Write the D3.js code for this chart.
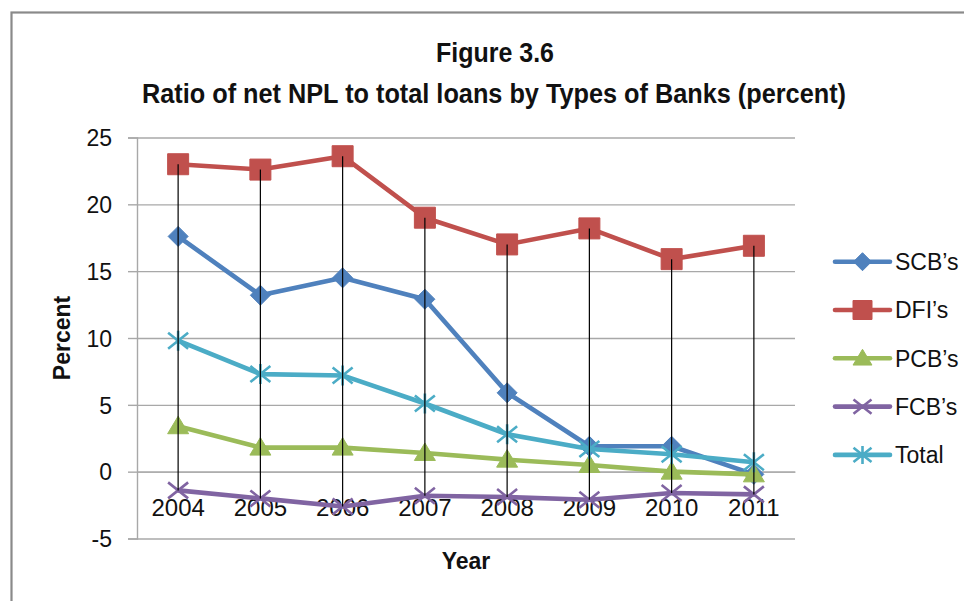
<!DOCTYPE html>
<html>
<head>
<meta charset="utf-8">
<script src="https://cdn.jsdelivr.net/npm/d3@7/dist/d3.min.js"></script>
<style>
  html, body { margin: 0; padding: 0; background: #fff; }
  svg { display: block; }
  text { font-family: "Liberation Sans", Arial, sans-serif; fill: #111; }
</style>
</head>
<body>
<svg id="chart" width="964" height="601"></svg>
<script>
// Ratio of net NPL to total loans, by bank type (percent)
const years = ["2004", "2005", "2006", "2007", "2008", "2009", "2010", "2011"];
const seriesNames = ["SCB\u2019s", "DFI\u2019s", "PCB\u2019s", "FCB\u2019s", "Total"];
const scbValues   = [17.6, 13.2, 14.5, 12.9, 5.9, 1.9, 1.9, -0.2];
const dfiValues   = [23.0, 22.6, 23.6, 19.0, 17.0, 18.2, 15.9, 16.9];
const pcbValues   = [3.4, 1.8, 1.8, 1.4, 0.9, 0.5, 0.0, -0.2];
const fcbValues   = [-1.4, -2.0, -2.6, -1.8, -1.9, -2.1, -1.6, -1.7];
const totalValues = [9.8, 7.3, 7.2, 5.1, 2.8, 1.7, 1.3, 0.7];
const yTicks = [-5, 0, 5, 10, 15, 20, 25];

const seriesValues = [scbValues, dfiValues, pcbValues, fcbValues, totalValues];
const seriesColors = ["#4F81BD", "#C0504D", "#9BBB59", "#8064A2", "#4BACC6"];
const seriesMarkers = ["diamond", "square", "triangle", "cross", "star"];

const svg = d3.select("#chart");

// outer chart frame
svg.append("rect")
  .attr("x", 11.5).attr("y", 12.5)
  .attr("width", 1000).attr("height", 700)
  .attr("fill", "#fff").attr("stroke", "#8a8a8a").attr("stroke-width", 2.2);

const plot = { left: 137, right: 795, top: 137.5, bottom: 538.5 };

const x = d3.scaleBand().domain(years).range([plot.left, plot.right]);
const y = d3.scaleLinear().domain([-5, 25]).range([plot.bottom, plot.top]);
const cx = d => x(d) + x.bandwidth() / 2;

// horizontal gridlines
svg.append("g")
  .attr("transform", `translate(${plot.left},0)`)
  .call(d3.axisLeft(y).tickValues(yTicks).tickSize(-(plot.right - plot.left)).tickFormat(""))
  .call(g => g.select(".domain").remove())
  .call(g => g.selectAll("line").attr("stroke", "#a8a8a8").attr("stroke-width", 1.4));

// value axis (plain hyphen for negatives)
svg.append("g")
  .attr("transform", `translate(${plot.left},0)`)
  .call(d3.axisLeft(y).tickValues(yTicks).tickSize(9).tickPadding(16).tickFormat(d => String(d)))
  .call(g => g.select(".domain").attr("stroke", "#a8a8a8").attr("stroke-width", 1.4))
  .call(g => g.selectAll(".tick line").attr("stroke", "#a8a8a8").attr("stroke-width", 1.4))
  .call(g => g.selectAll("text")
    .attr("font-size", 23).attr("font-family", "Liberation Sans, Arial, sans-serif")
    .attr("fill", "#111").attr("dy", "0.36em"));

// category axis crossing at zero
svg.append("g")
  .attr("transform", `translate(0,${y(0)})`)
  .call(d3.axisBottom(x).tickSize(0).tickPadding(0))
  .call(g => g.select(".domain").attr("stroke", "#a8a8a8").attr("stroke-width", 1.4))
  .call(g => g.selectAll("text")
    .attr("font-size", 24).attr("font-family", "Liberation Sans, Arial, sans-serif")
    .attr("fill", "#111").attr("y", 44.3).attr("dy", 0));

// marker shapes
function markerPath(type, s) {
  switch (type) {
    case "diamond": return `M0,${-s}L${s},0L0,${s}L${-s},0Z`;
    case "square": return `M${-s},${-s}H${s}V${s}H${-s}Z`;
    case "triangle": return `M0,${-s}L${s * 1.05},${s * 0.75}L${-s * 1.05},${s * 0.75}Z`;
    case "cross": return `M${-s},${-s * 0.8}L${s},${s * 0.8}M${-s},${s * 0.8}L${s},${-s * 0.8}`;
    case "star": return `M${-s},${-s * 0.8}L${s},${s * 0.8}M${-s},${s * 0.8}L${s},${-s * 0.8}M0,${-s}V${s}`;
  }
}
const isOpen = t => t === "cross" || t === "star";

const line = d3.line().x(d => cx(d.year)).y(d => y(d.value));

seriesNames.forEach((name, i) => {
  const pts = years.map((yr, j) => ({ year: yr, value: seriesValues[i][j] }));
  const g = svg.append("g").attr("class", "series");
  g.append("path")
    .datum(pts)
    .attr("d", line)
    .attr("fill", "none")
    .attr("stroke", seriesColors[i])
    .attr("stroke-width", 4.6)
    .attr("stroke-linejoin", "round")
    .attr("stroke-linecap", "round");
  const size = seriesMarkers[i] === "square" ? 10.5 : 10;
  g.selectAll("path.marker")
    .data(pts)
    .join("path")
    .attr("class", "marker")
    .attr("transform", d => `translate(${cx(d.year)},${y(d.value)})`)
    .attr("d", markerPath(seriesMarkers[i], size))
    .attr("fill", isOpen(seriesMarkers[i]) ? "none" : seriesColors[i])
    .attr("stroke", seriesColors[i])
    .attr("stroke-width", isOpen(seriesMarkers[i]) ? 2.6 : 1);
});

// high-low lines across all series for each year
svg.append("g")
  .selectAll("line")
  .data(years.map((yr, j) => ({
    year: yr,
    hi: d3.max(seriesValues, s => s[j]),
    lo: d3.min(seriesValues, s => s[j])
  })))
  .join("line")
  .attr("x1", d => cx(d.year)).attr("x2", d => cx(d.year))
  .attr("y1", d => y(d.hi)).attr("y2", d => y(d.lo))
  .attr("stroke", "#000").attr("stroke-width", 1.2);

// titles
svg.append("text")
  .attr("x", 495).attr("y", 61.5)
  .attr("text-anchor", "middle")
  .attr("font-size", 27).attr("font-weight", "bold")
  .attr("textLength", 118).attr("lengthAdjust", "spacingAndGlyphs")
  .text("Figure 3.6");
svg.append("text")
  .attr("x", 494).attr("y", 102.5)
  .attr("text-anchor", "middle")
  .attr("font-size", 27).attr("font-weight", "bold")
  .attr("textLength", 704).attr("lengthAdjust", "spacingAndGlyphs")
  .text("Ratio of net NPL to total loans by Types of Banks (percent)");

// axis titles
svg.append("text")
  .attr("transform", "translate(70,338) rotate(-90)")
  .attr("text-anchor", "middle")
  .attr("font-size", 23).attr("font-weight", "bold")
  .text("Percent");
svg.append("text")
  .attr("x", (plot.left + plot.right) / 2).attr("y", 569)
  .attr("text-anchor", "middle")
  .attr("font-size", 23).attr("font-weight", "bold")
  .text("Year");

// legend
const legend = svg.append("g").attr("transform", "translate(835,261.7)");
seriesNames.forEach((name, i) => {
  const g = legend.append("g").attr("transform", `translate(0,${i * 48.3})`);
  g.append("line")
    .attr("x1", 0).attr("x2", 55).attr("y1", 0).attr("y2", 0)
    .attr("stroke", seriesColors[i]).attr("stroke-width", 4.6)
    .attr("stroke-linecap", "round");
  g.append("path")
    .attr("transform", "translate(27.5,0)")
    .attr("d", markerPath(seriesMarkers[i], seriesMarkers[i] === "square" ? 9.5 : 9))
    .attr("fill", isOpen(seriesMarkers[i]) ? "none" : seriesColors[i])
    .attr("stroke", seriesColors[i])
    .attr("stroke-width", isOpen(seriesMarkers[i]) ? 2.6 : 1);
  g.append("text")
    .attr("x", 60).attr("y", 0).attr("dy", "0.36em")
    .attr("font-size", 23)
    .text(name);
});
</script>
</body>
</html>
